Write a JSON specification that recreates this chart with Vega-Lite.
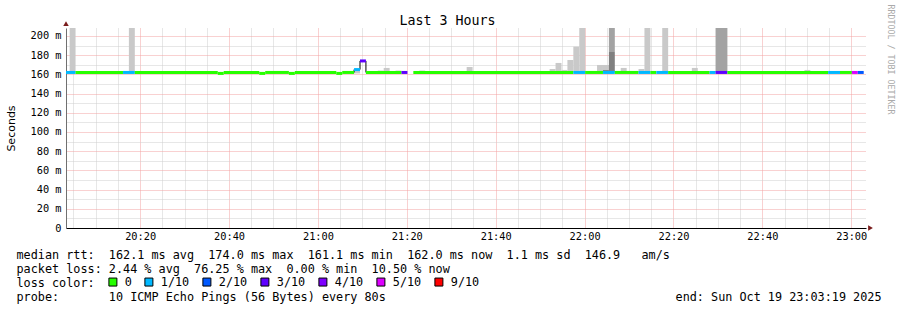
{
  "$schema": "https://vega.github.io/schema/vega-lite/v6.json",
  "width": 800,
  "height": 200,
  "autosize": {"type": "none"},
  "padding": {"left": 66, "top": 28, "right": 31, "bottom": 82},
  "background": "#ffffff",
  "title": {
    "text": "Last 3 Hours",
    "font": "DejaVu Sans Mono",
    "fontSize": 13.3,
    "fontWeight": "normal",
    "color": "#000000",
    "anchor": "middle",
    "baseline": "bottom",
    "dx": -18.5,
    "offset": -37
  },
  "datasets": {
    "smoke": [
      {"s": "2025-10-19T20:04:08Z", "e": "2025-10-19T20:05:28Z", "lo": 162, "hi": 215, "shade": "light"},
      {"s": "2025-10-19T20:17:28Z", "e": "2025-10-19T20:18:48Z", "lo": 162, "hi": 215, "shade": "light"},
      {"s": "2025-10-19T20:21:28Z", "e": "2025-10-19T20:22:48Z", "lo": 162, "hi": 163.5, "shade": "light"},
      {"s": "2025-10-19T21:08:08Z", "e": "2025-10-19T21:09:28Z", "lo": 161, "hi": 164, "shade": "light"},
      {"s": "2025-10-19T21:13:28Z", "e": "2025-10-19T21:14:48Z", "lo": 162, "hi": 164, "shade": "light"},
      {"s": "2025-10-19T21:14:48Z", "e": "2025-10-19T21:16:08Z", "lo": 162, "hi": 166.7, "shade": "light"},
      {"s": "2025-10-19T21:17:28Z", "e": "2025-10-19T21:18:48Z", "lo": 162, "hi": 164, "shade": "light"},
      {"s": "2025-10-19T21:22:48Z", "e": "2025-10-19T21:24:08Z", "lo": 162, "hi": 164, "shade": "light"},
      {"s": "2025-10-19T21:32:08Z", "e": "2025-10-19T21:33:28Z", "lo": 162, "hi": 163.5, "shade": "light"},
      {"s": "2025-10-19T21:33:28Z", "e": "2025-10-19T21:34:48Z", "lo": 162, "hi": 167.7, "shade": "light"},
      {"s": "2025-10-19T21:46:48Z", "e": "2025-10-19T21:48:08Z", "lo": 162, "hi": 163.5, "shade": "light"},
      {"s": "2025-10-19T21:52:08Z", "e": "2025-10-19T21:53:28Z", "lo": 162, "hi": 165.6, "shade": "light"},
      {"s": "2025-10-19T21:53:28Z", "e": "2025-10-19T21:54:48Z", "lo": 162, "hi": 171.9, "shade": "light"},
      {"s": "2025-10-19T21:54:48Z", "e": "2025-10-19T21:56:08Z", "lo": 162, "hi": 164.6, "shade": "light"},
      {"s": "2025-10-19T21:56:08Z", "e": "2025-10-19T21:57:28Z", "lo": 162, "hi": 175, "shade": "light"},
      {"s": "2025-10-19T21:57:28Z", "e": "2025-10-19T21:58:48Z", "lo": 162, "hi": 188.9, "shade": "light"},
      {"s": "2025-10-19T21:58:48Z", "e": "2025-10-19T22:00:08Z", "lo": 162, "hi": 215, "shade": "light"},
      {"s": "2025-10-19T22:01:28Z", "e": "2025-10-19T22:02:48Z", "lo": 162, "hi": 163.5, "shade": "light"},
      {"s": "2025-10-19T22:02:48Z", "e": "2025-10-19T22:04:08Z", "lo": 162, "hi": 169.8, "shade": "light"},
      {"s": "2025-10-19T22:04:08Z", "e": "2025-10-19T22:05:28Z", "lo": 162, "hi": 169.8, "shade": "light"},
      {"s": "2025-10-19T22:04:08Z", "e": "2025-10-19T22:05:28Z", "lo": 162, "hi": 164.5, "shade": "dark"},
      {"s": "2025-10-19T22:05:28Z", "e": "2025-10-19T22:06:48Z", "lo": 183.3, "hi": 215, "shade": "mid"},
      {"s": "2025-10-19T22:05:28Z", "e": "2025-10-19T22:06:48Z", "lo": 162, "hi": 183.3, "shade": "dark"},
      {"s": "2025-10-19T22:08:08Z", "e": "2025-10-19T22:09:28Z", "lo": 162, "hi": 166.7, "shade": "light"},
      {"s": "2025-10-19T22:12:08Z", "e": "2025-10-19T22:13:28Z", "lo": 162, "hi": 165.6, "shade": "light"},
      {"s": "2025-10-19T22:13:28Z", "e": "2025-10-19T22:14:48Z", "lo": 162, "hi": 215, "shade": "light"},
      {"s": "2025-10-19T22:17:28Z", "e": "2025-10-19T22:18:48Z", "lo": 162, "hi": 215, "shade": "light"},
      {"s": "2025-10-19T22:20:08Z", "e": "2025-10-19T22:21:28Z", "lo": 162, "hi": 163.5, "shade": "light"},
      {"s": "2025-10-19T22:22:48Z", "e": "2025-10-19T22:24:08Z", "lo": 162, "hi": 163.5, "shade": "light"},
      {"s": "2025-10-19T22:24:08Z", "e": "2025-10-19T22:25:28Z", "lo": 162, "hi": 166.7, "shade": "light"},
      {"s": "2025-10-19T22:29:28Z", "e": "2025-10-19T22:32:08Z", "lo": 162, "hi": 215, "shade": "mid"},
      {"s": "2025-10-19T22:36:08Z", "e": "2025-10-19T22:37:28Z", "lo": 162, "hi": 163.5, "shade": "light"},
      {"s": "2025-10-19T22:38:48Z", "e": "2025-10-19T22:40:08Z", "lo": 162, "hi": 163.5, "shade": "light"},
      {"s": "2025-10-19T22:49:28Z", "e": "2025-10-19T22:50:48Z", "lo": 162, "hi": 164.6, "shade": "light"},
      {"s": "2025-10-19T22:50:48Z", "e": "2025-10-19T22:52:08Z", "lo": 162, "hi": 163.5, "shade": "light"}
    ],
    "median": [
      {"s": "2025-10-19T20:03:19Z", "e": "2025-10-19T20:05:28Z", "ms": 162, "loss": "1/10"},
      {"s": "2025-10-19T20:05:28Z", "e": "2025-10-19T20:16:08Z", "ms": 162, "loss": "0"},
      {"s": "2025-10-19T20:16:08Z", "e": "2025-10-19T20:18:48Z", "ms": 162, "loss": "1/10"},
      {"s": "2025-10-19T20:18:48Z", "e": "2025-10-19T20:37:28Z", "ms": 162, "loss": "0"},
      {"s": "2025-10-19T20:37:28Z", "e": "2025-10-19T20:38:48Z", "ms": 161, "loss": "0"},
      {"s": "2025-10-19T20:38:48Z", "e": "2025-10-19T20:46:48Z", "ms": 162, "loss": "0"},
      {"s": "2025-10-19T20:46:48Z", "e": "2025-10-19T20:48:08Z", "ms": 161, "loss": "0"},
      {"s": "2025-10-19T20:48:08Z", "e": "2025-10-19T20:53:28Z", "ms": 162, "loss": "0"},
      {"s": "2025-10-19T20:53:28Z", "e": "2025-10-19T20:54:48Z", "ms": 161, "loss": "0"},
      {"s": "2025-10-19T20:54:48Z", "e": "2025-10-19T21:04:08Z", "ms": 162, "loss": "0"},
      {"s": "2025-10-19T21:04:08Z", "e": "2025-10-19T21:05:28Z", "ms": 161, "loss": "0"},
      {"s": "2025-10-19T21:05:28Z", "e": "2025-10-19T21:08:08Z", "ms": 162, "loss": "0"},
      {"s": "2025-10-19T21:08:08Z", "e": "2025-10-19T21:09:28Z", "ms": 165, "loss": "1/10"},
      {"s": "2025-10-19T21:09:28Z", "e": "2025-10-19T21:10:48Z", "ms": 174, "loss": "3/10"},
      {"s": "2025-10-19T21:10:48Z", "e": "2025-10-19T21:18:48Z", "ms": 162, "loss": "0"},
      {"s": "2025-10-19T21:18:48Z", "e": "2025-10-19T21:20:08Z", "ms": 162, "loss": "3/10"},
      {"s": "2025-10-19T21:21:28Z", "e": "2025-10-19T21:57:28Z", "ms": 162, "loss": "0"},
      {"s": "2025-10-19T21:57:28Z", "e": "2025-10-19T22:00:08Z", "ms": 162, "loss": "1/10"},
      {"s": "2025-10-19T22:00:08Z", "e": "2025-10-19T22:04:08Z", "ms": 162, "loss": "0"},
      {"s": "2025-10-19T22:04:08Z", "e": "2025-10-19T22:06:48Z", "ms": 162, "loss": "1/10"},
      {"s": "2025-10-19T22:06:48Z", "e": "2025-10-19T22:12:08Z", "ms": 162, "loss": "0"},
      {"s": "2025-10-19T22:12:08Z", "e": "2025-10-19T22:14:48Z", "ms": 162, "loss": "1/10"},
      {"s": "2025-10-19T22:14:48Z", "e": "2025-10-19T22:16:08Z", "ms": 162, "loss": "0"},
      {"s": "2025-10-19T22:16:08Z", "e": "2025-10-19T22:18:48Z", "ms": 162, "loss": "1/10"},
      {"s": "2025-10-19T22:18:48Z", "e": "2025-10-19T22:28:08Z", "ms": 162, "loss": "0"},
      {"s": "2025-10-19T22:28:08Z", "e": "2025-10-19T22:29:28Z", "ms": 162, "loss": "1/10"},
      {"s": "2025-10-19T22:29:28Z", "e": "2025-10-19T22:32:08Z", "ms": 162, "loss": "3/10"},
      {"s": "2025-10-19T22:32:08Z", "e": "2025-10-19T22:54:48Z", "ms": 162, "loss": "0"},
      {"s": "2025-10-19T22:54:48Z", "e": "2025-10-19T22:57:28Z", "ms": 162, "loss": "1/10"},
      {"s": "2025-10-19T22:57:28Z", "e": "2025-10-19T23:00:08Z", "ms": 162, "loss": "0"},
      {"s": "2025-10-19T23:00:08Z", "e": "2025-10-19T23:01:28Z", "ms": 162, "loss": "5/10"},
      {"s": "2025-10-19T23:01:28Z", "e": "2025-10-19T23:02:48Z", "ms": 162, "loss": "2/10"}
    ],
    "steps": [
      {"t": "2025-10-19T21:08:08Z", "a": 162, "b": 165},
      {"t": "2025-10-19T21:09:28Z", "a": 165, "b": 174},
      {"t": "2025-10-19T21:10:48Z", "a": 162, "b": 174}
    ],
    "arrows": [
      {"t": "2025-10-19T20:03:19Z", "v": 212.8, "dir": "up"},
      {"t": "2025-10-19T23:04:20Z", "v": 0, "dir": "right"}
    ]
  },
  "layer": [
    {
      "data": {"name": "smoke"},
      "mark": {"type": "rect", "clip": true},
      "encoding": {
        "x": {
          "field": "s", "type": "temporal",
          "scale": {"type": "utc", "domain": [
            {"year": 2025, "month": 10, "date": 19, "hours": 20, "minutes": 3, "seconds": 19, "utc": true},
            {"year": 2025, "month": 10, "date": 19, "hours": 23, "minutes": 3, "seconds": 19, "utc": true}]},
          "axis": {
            "orient": "bottom",
            "values": [
              {"year": 2025, "month": 10, "date": 19, "hours": 20, "minutes": 5, "utc": true},
              {"year": 2025, "month": 10, "date": 19, "hours": 20, "minutes": 10, "utc": true},
              {"year": 2025, "month": 10, "date": 19, "hours": 20, "minutes": 15, "utc": true},
              {"year": 2025, "month": 10, "date": 19, "hours": 20, "minutes": 20, "utc": true},
              {"year": 2025, "month": 10, "date": 19, "hours": 20, "minutes": 25, "utc": true},
              {"year": 2025, "month": 10, "date": 19, "hours": 20, "minutes": 30, "utc": true},
              {"year": 2025, "month": 10, "date": 19, "hours": 20, "minutes": 35, "utc": true},
              {"year": 2025, "month": 10, "date": 19, "hours": 20, "minutes": 40, "utc": true},
              {"year": 2025, "month": 10, "date": 19, "hours": 20, "minutes": 45, "utc": true},
              {"year": 2025, "month": 10, "date": 19, "hours": 20, "minutes": 50, "utc": true},
              {"year": 2025, "month": 10, "date": 19, "hours": 20, "minutes": 55, "utc": true},
              {"year": 2025, "month": 10, "date": 19, "hours": 21, "minutes": 0, "utc": true},
              {"year": 2025, "month": 10, "date": 19, "hours": 21, "minutes": 5, "utc": true},
              {"year": 2025, "month": 10, "date": 19, "hours": 21, "minutes": 10, "utc": true},
              {"year": 2025, "month": 10, "date": 19, "hours": 21, "minutes": 15, "utc": true},
              {"year": 2025, "month": 10, "date": 19, "hours": 21, "minutes": 20, "utc": true},
              {"year": 2025, "month": 10, "date": 19, "hours": 21, "minutes": 25, "utc": true},
              {"year": 2025, "month": 10, "date": 19, "hours": 21, "minutes": 30, "utc": true},
              {"year": 2025, "month": 10, "date": 19, "hours": 21, "minutes": 35, "utc": true},
              {"year": 2025, "month": 10, "date": 19, "hours": 21, "minutes": 40, "utc": true},
              {"year": 2025, "month": 10, "date": 19, "hours": 21, "minutes": 45, "utc": true},
              {"year": 2025, "month": 10, "date": 19, "hours": 21, "minutes": 50, "utc": true},
              {"year": 2025, "month": 10, "date": 19, "hours": 21, "minutes": 55, "utc": true},
              {"year": 2025, "month": 10, "date": 19, "hours": 22, "minutes": 0, "utc": true},
              {"year": 2025, "month": 10, "date": 19, "hours": 22, "minutes": 5, "utc": true},
              {"year": 2025, "month": 10, "date": 19, "hours": 22, "minutes": 10, "utc": true},
              {"year": 2025, "month": 10, "date": 19, "hours": 22, "minutes": 15, "utc": true},
              {"year": 2025, "month": 10, "date": 19, "hours": 22, "minutes": 20, "utc": true},
              {"year": 2025, "month": 10, "date": 19, "hours": 22, "minutes": 25, "utc": true},
              {"year": 2025, "month": 10, "date": 19, "hours": 22, "minutes": 30, "utc": true},
              {"year": 2025, "month": 10, "date": 19, "hours": 22, "minutes": 35, "utc": true},
              {"year": 2025, "month": 10, "date": 19, "hours": 22, "minutes": 40, "utc": true},
              {"year": 2025, "month": 10, "date": 19, "hours": 22, "minutes": 45, "utc": true},
              {"year": 2025, "month": 10, "date": 19, "hours": 22, "minutes": 50, "utc": true},
              {"year": 2025, "month": 10, "date": 19, "hours": 22, "minutes": 55, "utc": true},
              {"year": 2025, "month": 10, "date": 19, "hours": 23, "minutes": 0, "utc": true}
            ],
            "grid": true,
            "gridColor": {"condition": {"test": "utcminutes(datum.value) % 20 == 0", "value": "#f2a2a2"}, "value": "#cfcfcf"},
            "gridDash": [1, 1],
            "gridWidth": 1,
            "ticks": false,
            "domain": true,
            "domainColor": "#000000",
            "domainWidth": 1,
            "labelExpr": "utcminutes(datum.value) % 20 == 0 ? utcFormat(datum.value, '%H:%M') : ''",
            "labelFont": "DejaVu Sans Mono",
            "labelFontSize": 10.3,
            "labelColor": "#000000",
            "labelPadding": 3,
            "labelOverlap": false,
            "labelFlush": false,
            "title": [
              "median rtt:\u00a0\u00a0162.1 ms avg\u00a0\u00a0174.0 ms max\u00a0\u00a0161.1 ms min\u00a0\u00a0162.0 ms now\u00a0\u00a01.1 ms sd\u00a0\u00a0146.9\u00a0\u00a0\u00a0am/s",
              "packet loss: 2.44 % avg\u00a0\u00a076.25 % max\u00a0\u00a00.00 % min\u00a0\u00a010.50 % now",
              "loss color:",
              "probe:\u00a0\u00a0\u00a0\u00a0\u00a0\u00a0\u00a010 ICMP Echo Pings (56 Bytes) every 80s"
            ],
            "titleFont": "DejaVu Sans Mono",
            "titleFontSize": 11.8,
            "titleFontWeight": "normal",
            "titleColor": "#000000",
            "titleAnchor": "start",
            "titleAlign": "left",
            "titleBaseline": "alphabetic",
            "titleX": -50,
            "titleY": 30.5,
            "titleLineHeight": 14
          }
        },
        "x2": {"field": "e"},
        "y": {
          "field": "lo", "type": "quantitative",
          "scale": {"domain": [0, 208.3], "nice": false, "zero": false},
          "axis": {
            "orient": "left",
            "values": [0, 10, 20, 30, 40, 50, 60, 70, 80, 90, 100, 110, 120, 130, 140, 150, 160, 170, 180, 190, 200],
            "grid": true,
            "gridColor": {"condition": {"test": "datum.value % 20 == 0", "value": "#f2a2a2"}, "value": "#cfcfcf"},
            "gridDash": [1, 1],
            "gridWidth": 1,
            "ticks": false,
            "domain": true,
            "domainColor": "#707070",
            "labelExpr": "datum.value == 0 ? '0\u00a0\u00a0' : (datum.value % 20 == 0 ? datum.value + '\u00a0m' : '')",
            "labelFont": "DejaVu Sans Mono",
            "labelFontSize": 10.3,
            "labelColor": "#000000",
            "labelPadding": 5,
            "labelOverlap": false,
            "labelFlush": false,
            "title": "Seconds",
            "titleFont": "DejaVu Sans",
            "titleFontSize": 11,
            "titleFontWeight": "normal",
            "titleColor": "#000000",
            "titleAngle": 270,
            "titleX": -55,
            "titleY": 100,
            "titleAlign": "center",
            "titleBaseline": "middle"
          }
        },
        "y2": {"field": "hi"},
        "fill": {
          "field": "shade", "type": "nominal",
          "scale": {"domain": ["light", "mid", "dark"], "range": ["#c9c9c9", "#a3a3a3", "#808080"]},
          "legend": null
        }
      }
    },
    {
      "data": {"name": "steps"},
      "mark": {"type": "rule", "color": "#000000", "strokeWidth": 1},
      "encoding": {
        "x": {"field": "t", "type": "temporal", "axis": null},
        "y": {"field": "a", "type": "quantitative", "axis": null},
        "y2": {"field": "b"}
      }
    },
    {
      "data": {"name": "median"},
      "mark": {"type": "rule", "strokeWidth": 3, "strokeCap": "butt", "opacity": 1},
      "encoding": {
        "x": {"field": "s", "type": "temporal", "axis": null},
        "x2": {"field": "e"},
        "y": {"field": "ms", "type": "quantitative", "axis": null},
        "color": {
          "field": "loss", "type": "nominal",
          "scale": {
            "domain": ["0", "1/10", "2/10", "3/10", "4/10", "5/10", "9/10"],
            "range": ["#26ff00", "#00b8ff", "#0059ff", "#5e00ff", "#7e00ff", "#dd00ff", "#ff0000"]
          },
          "legend": null
        }
      }
    },
    {
      "data": {"name": "median"},
      "mark": {"type": "square", "opacity": 0, "size": 1},
      "encoding": {
        "x": {"field": "s", "type": "temporal", "axis": null},
        "y": {"field": "ms", "type": "quantitative", "axis": null},
        "color": {
          "field": "loss", "type": "nominal",
          "scale": {
            "domain": ["0", "1/10", "2/10", "3/10", "4/10", "5/10", "9/10"],
            "range": ["#26ff00", "#00b8ff", "#0059ff", "#5e00ff", "#7e00ff", "#dd00ff", "#ff0000"]
          },
          "legend": {
            "orient": "none",
            "legendX": 41,
            "legendY": 248,
            "direction": "horizontal",
            "title": null,
            "padding": 0,
            "symbolType": "square",
            "symbolSize": 64,
            "symbolOpacity": 1,
            "symbolStrokeColor": "#000000",
            "symbolStrokeWidth": 1,
            "labelFont": "DejaVu Sans Mono",
            "labelFontSize": 11.8,
            "labelColor": "#000000",
            "labelOffset": 6,
            "columnPadding": 10
          }
        }
      }
    },
    {
      "data": {"name": "arrows"},
      "mark": {"type": "point", "filled": true, "size": 30, "opacity": 1, "color": "#7a1c1c"},
      "encoding": {
        "x": {
          "field": "t", "type": "temporal",
          "axis": {
            "orient": "bottom",
            "grid": false, "ticks": false, "labels": false, "domain": false,
            "title": "end: Sun Oct 19 23:03:19 2025",
            "titleFont": "DejaVu Sans Mono",
            "titleFontSize": 11.8,
            "titleFontWeight": "normal",
            "titleColor": "#000000",
            "titleAlign": "right",
            "titleAnchor": "end",
            "titleBaseline": "alphabetic",
            "titleX": 815,
            "titleY": 72.5
          }
        },
        "y": {
          "field": "v", "type": "quantitative",
          "axis": {
            "orient": "right",
            "grid": false, "ticks": false, "labels": false, "domain": false,
            "title": "RRDTOOL / TOBI OETIKER",
            "titleFont": "DejaVu Sans Mono",
            "titleFontSize": 8.3,
            "titleFontWeight": "normal",
            "titleColor": "#aaaaaa",
            "titleAngle": 90,
            "titleX": 23,
            "titleY": 31,
            "titleAlign": "center",
            "titleBaseline": "middle"
          }
        },
        "shape": {
          "field": "dir", "type": "nominal",
          "scale": {"domain": ["up", "right"], "range": ["triangle-up", "triangle-right"]},
          "legend": null
        }
      }
    }
  ],
  "resolve": {
    "axis": {"x": "independent", "y": "independent"},
    "legend": {"color": "independent"}
  },
  "config": {
    "view": {"stroke": null},
    "font": "DejaVu Sans Mono"
  }
}
